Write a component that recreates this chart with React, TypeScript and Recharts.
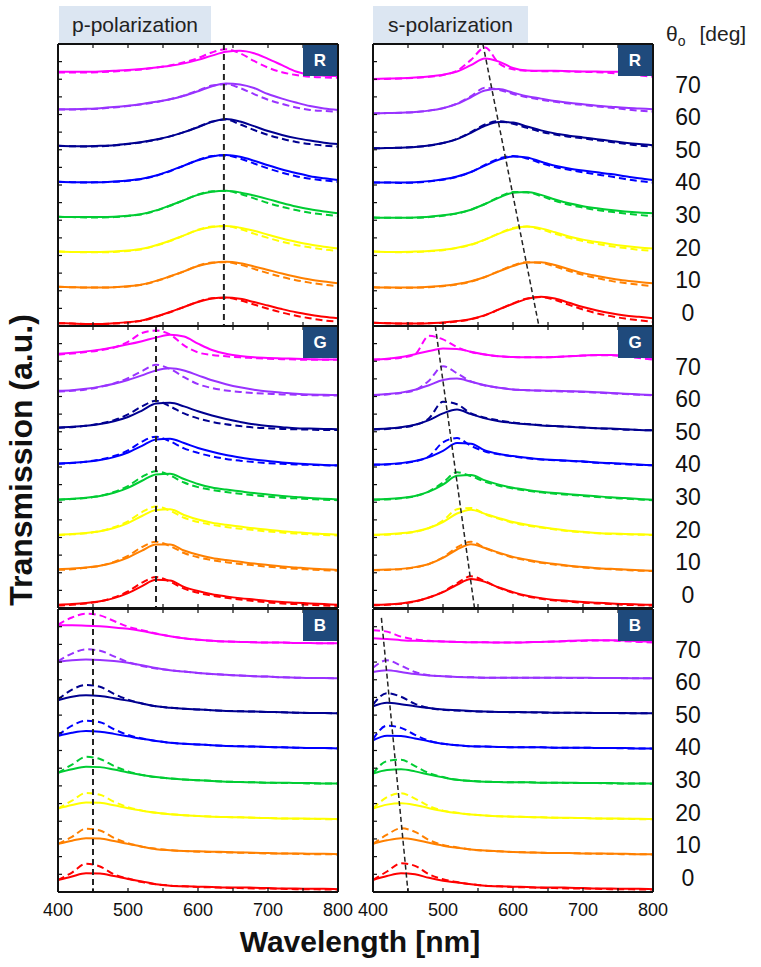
import React from "react";
import { LineChart, Line, XAxis, YAxis, ReferenceLine } from "recharts";

// sampling grid shared by all curves (nm)
const wavelengths = [400, 420, 440, 460, 480, 500, 520, 540, 560, 580, 600, 620, 640, 660, 680, 700, 720, 740, 760, 780, 800];
const angles = [0, 10, 20, 30, 40, 50, 60, 70];
const angleColors = ["#ff0000", "#ff8000", "#ffff00", "#00cc33", "#0000ff", "#000090", "#9933ff", "#ff00ff"];
const xTicks = [400, 450, 500, 550, 600, 650, 700, 750, 800];
const yTicks = [0, 0.5, 1, 1.5, 2, 2.5, 3, 3.5, 4, 4.5, 5, 5.5, 6, 6.5, 7, 7.5, 8];

// each curve: transmission above its own offset step (one step per angle), solid = measured, dashed = simulated
const pR_solid = [
  [.08, .07, .06, .06, .08, .11, .16, .27, .40, .54, .68, .78, .81, .77, .68, .58, .48, .39, .32, .26, .22],
  [.11, .10, .09, .09, .10, .13, .18, .28, .41, .55, .70, .79, .82, .78, .69, .59, .49, .40, .32, .26, .21],
  [.11, .10, .10, .10, .11, .14, .19, .29, .42, .57, .72, .81, .84, .79, .70, .59, .48, .39, .31, .25, .20],
  [.10, .09, .09, .09, .10, .13, .18, .28, .42, .57, .72, .81, .84, .79, .70, .60, .49, .39, .31, .25, .20],
  [.09, .08, .08, .08, .10, .13, .18, .27, .40, .55, .70, .81, .85, .80, .69, .56, .44, .34, .25, .19, .14],
  [.11, .10, .10, .11, .13, .17, .22, .29, .38, .50, .64, .79, .87, .80, .67, .53, .42, .33, .26, .20, .16],
  [.15, .15, .16, .18, .21, .25, .30, .36, .43, .53, .66, .80, .88, .85, .75, .58, .45, .34, .24, .17, .13],
  [.21, .21, .21, .22, .24, .26, .29, .33, .38, .45, .55, .67, .78, .81, .74, .58, .40, .22, .13, .10, .09],
];
const pR_dashed = [
  [.08, .07, .06, .06, .07, .10, .15, .26, .39, .54, .69, .79, .80, .73, .61, .49, .38, .29, .22, .16, .12],
  [.11, .10, .09, .09, .10, .12, .17, .27, .40, .55, .71, .80, .81, .74, .62, .50, .39, .30, .23, .17, .13],
  [.11, .10, .09, .09, .10, .13, .18, .28, .41, .57, .73, .82, .83, .75, .62, .50, .39, .30, .23, .17, .13],
  [.10, .09, .08, .08, .09, .12, .17, .27, .41, .57, .73, .82, .83, .75, .62, .49, .38, .29, .21, .16, .12],
  [.09, .08, .07, .08, .09, .12, .17, .26, .39, .55, .71, .82, .84, .75, .61, .47, .35, .25, .18, .13, .09],
  [.11, .10, .09, .10, .12, .16, .21, .28, .38, .50, .65, .80, .86, .72, .56, .42, .31, .22, .16, .12, .09],
  [.14, .14, .15, .17, .20, .24, .29, .35, .43, .54, .68, .82, .86, .75, .58, .42, .30, .20, .13, .10, .08],
  [.19, .19, .19, .20, .22, .25, .28, .33, .39, .48, .60, .76, .85, .74, .52, .33, .20, .12, .07, .05, .04],
];

const sR_solid = [
  [.09, .08, .07, .07, .08, .10, .14, .20, .31, .47, .63, .77, .83, .78, .66, .54, .44, .36, .30, .26, .22],
  [.10, .09, .09, .09, .11, .14, .19, .27, .39, .55, .70, .80, .81, .73, .61, .50, .42, .35, .29, .25, .21],
  [.11, .10, .10, .11, .13, .16, .22, .31, .45, .62, .76, .82, .77, .66, .54, .45, .38, .32, .27, .23, .20],
  [.08, .07, .07, .08, .10, .14, .20, .30, .46, .64, .78, .80, .72, .59, .48, .40, .34, .29, .25, .22, .20],
  [.07, .07, .07, .08, .11, .16, .24, .37, .55, .72, .81, .78, .66, .55, .47, .41, .36, .31, .25, .19, .14],
  [.04, .05, .06, .08, .12, .19, .30, .48, .68, .79, .77, .66, .55, .46, .40, .35, .30, .25, .20, .16, .13],
  [.03, .04, .05, .07, .11, .18, .30, .49, .68, .72, .62, .52, .45, .38, .33, .29, .25, .22, .19, .17, .15],
  [.01, .02, .03, .05, .08, .13, .22, .40, .59, .50, .32, .25, .24, .24, .23, .22, .22, .21, .21, .20, .20],
];
const sR_dashed = [
  [.09, .08, .07, .07, .08, .09, .13, .19, .30, .47, .64, .78, .82, .74, .60, .47, .36, .28, .21, .16, .12],
  [.10, .09, .08, .09, .10, .13, .18, .26, .39, .56, .72, .81, .79, .69, .56, .45, .36, .28, .22, .17, .13],
  [.11, .10, .09, .10, .12, .15, .21, .30, .45, .63, .78, .82, .74, .62, .50, .41, .33, .26, .21, .16, .13],
  [.08, .07, .07, .07, .09, .13, .19, .30, .46, .66, .80, .79, .69, .55, .44, .36, .29, .24, .19, .15, .12],
  [.07, .07, .06, .07, .10, .15, .23, .37, .57, .75, .82, .75, .62, .51, .43, .36, .30, .24, .17, .11, .07],
  [.04, .05, .06, .08, .12, .19, .31, .50, .72, .81, .74, .62, .51, .43, .37, .32, .27, .22, .17, .12, .09],
  [.03, .04, .05, .07, .11, .18, .31, .52, .76, .70, .58, .49, .42, .36, .31, .27, .23, .19, .15, .11, .08],
  [.00, .01, .02, .04, .07, .12, .24, .55, .90, .45, .28, .24, .23, .23, .22, .21, .20, .18, .15, .11, .07],
];

const pG_solid = [
  [.09, .11, .14, .19, .28, .42, .62, .80, .78, .60, .48, .39, .33, .28, .24, .20, .17, .15, .13, .11, .09],
  [.10, .12, .15, .20, .29, .43, .63, .80, .80, .63, .51, .42, .36, .31, .26, .22, .18, .15, .12, .10, .08],
  [.08, .10, .13, .18, .27, .41, .61, .78, .80, .64, .51, .42, .36, .31, .26, .22, .18, .15, .12, .10, .08],
  [.08, .10, .13, .18, .27, .41, .61, .79, .81, .66, .52, .42, .36, .31, .26, .22, .18, .15, .12, .10, .08],
  [.10, .12, .15, .20, .28, .41, .60, .78, .80, .68, .54, .43, .34, .27, .21, .17, .13, .10, .08, .06, .05],
  [.12, .14, .17, .22, .30, .42, .60, .80, .82, .72, .58, .46, .36, .28, .21, .16, .13, .10, .09, .08, .07],
  [.16, .18, .22, .28, .36, .47, .60, .74, .80, .74, .60, .46, .35, .26, .19, .14, .11, .08, .06, .05, .04],
  [.21, .24, .28, .33, .40, .48, .57, .67, .75, .70, .50, .32, .21, .15, .11, .09, .08, .07, .06, .05, .05],
];
const pG_dashed = [
  [.07, .09, .13, .19, .30, .47, .72, .88, .75, .55, .43, .35, .29, .24, .20, .16, .13, .11, .09, .07, .06],
  [.08, .10, .14, .20, .31, .48, .73, .88, .76, .56, .44, .36, .30, .25, .21, .17, .14, .11, .09, .07, .06],
  [.07, .09, .12, .18, .29, .46, .72, .88, .76, .56, .44, .36, .30, .25, .21, .17, .14, .11, .09, .07, .06],
  [.07, .09, .12, .18, .29, .46, .72, .88, .76, .56, .43, .35, .29, .24, .20, .16, .13, .11, .09, .07, .06],
  [.09, .11, .15, .21, .31, .47, .72, .86, .73, .53, .40, .30, .23, .18, .14, .11, .09, .07, .06, .05, .04],
  [.11, .13, .17, .23, .33, .49, .72, .88, .72, .52, .38, .28, .21, .16, .12, .10, .08, .07, .06, .05, .05],
  [.14, .16, .20, .27, .37, .52, .72, .90, .78, .55, .35, .24, .17, .13, .10, .08, .06, .05, .04, .03, .03],
  [.19, .22, .26, .31, .39, .55, .80, .87, .76, .45, .25, .18, .14, .11, .09, .07, .06, .05, .04, .04, .04],
];

const sG_solid = [
  [.09, .10, .13, .19, .30, .45, .66, .82, .74, .58, .45, .35, .28, .23, .20, .17, .15, .13, .11, .10, .09],
  [.08, .09, .11, .16, .25, .42, .66, .81, .70, .57, .45, .37, .30, .25, .20, .16, .13, .11, .09, .07, .06],
  [.08, .09, .12, .17, .27, .44, .68, .79, .67, .55, .44, .36, .30, .24, .19, .16, .13, .11, .10, .09, .08],
  [.08, .09, .12, .18, .30, .50, .75, .77, .62, .50, .41, .35, .30, .26, .23, .20, .17, .14, .12, .09, .07],
  [.07, .08, .11, .17, .28, .46, .68, .66, .47, .37, .31, .26, .22, .20, .18, .16, .13, .11, .09, .07, .05],
  [.07, .09, .13, .20, .33, .52, .63, .50, .38, .30, .25, .21, .18, .16, .14, .12, .10, .09, .07, .05, .04],
  [.04, .07, .11, .19, .32, .47, .51, .42, .32, .25, .20, .18, .17, .16, .15, .14, .12, .10, .08, .06, .04],
  [.05, .07, .12, .20, .29, .36, .35, .27, .19, .14, .12, .11, .11, .12, .14, .16, .18, .18, .16, .13, .09],
];
const sG_dashed = [
  [.08, .09, .12, .18, .30, .46, .70, .90, .76, .57, .43, .33, .26, .21, .18, .15, .13, .11, .09, .08, .07],
  [.07, .08, .10, .15, .25, .44, .72, .88, .70, .55, .43, .35, .28, .23, .19, .15, .12, .10, .08, .06, .05],
  [.07, .08, .11, .16, .27, .48, .80, .84, .66, .53, .42, .34, .28, .23, .18, .15, .12, .10, .09, .08, .07],
  [.07, .08, .11, .17, .31, .56, .85, .74, .58, .47, .39, .33, .28, .24, .21, .18, .15, .12, .10, .08, .06],
  [.06, .07, .10, .16, .30, .70, .82, .60, .44, .36, .30, .25, .21, .19, .17, .15, .12, .10, .08, .06, .05],
  [.06, .08, .12, .19, .38, .85, .78, .52, .40, .32, .26, .22, .19, .16, .14, .12, .10, .08, .06, .05, .04],
  [.03, .06, .10, .18, .45, .86, .66, .43, .31, .25, .20, .18, .16, .15, .14, .13, .11, .09, .07, .05, .03],
  [.04, .06, .10, .20, .72, .62, .40, .26, .19, .14, .12, .11, .11, .12, .14, .16, .17, .17, .14, .09, .05],
];

const pB_solid = [
  [.34, .44, .53, .52, .45, .37, .30, .22, .18, .16, .15, .14, .13, .13, .12, .11, .10, .10, .09, .09, .08],
  [.36, .45, .52, .51, .44, .36, .28, .21, .18, .16, .15, .14, .13, .12, .11, .10, .09, .09, .08, .08, .07],
  [.36, .46, .53, .52, .45, .37, .30, .24, .20, .17, .15, .13, .12, .11, .10, .09, .08, .08, .07, .07, .06],
  [.37, .47, .54, .53, .46, .38, .31, .25, .21, .18, .16, .14, .12, .11, .10, .09, .09, .08, .08, .07, .07],
  [.41, .50, .55, .53, .47, .40, .33, .27, .22, .19, .17, .15, .13, .12, .11, .10, .09, .08, .07, .07, .06],
  [.42, .52, .56, .54, .48, .41, .33, .25, .21, .18, .16, .14, .12, .11, .10, .09, .08, .07, .06, .06, .05],
  [.51, .55, .57, .56, .53, .48, .41, .33, .27, .23, .19, .16, .14, .12, .10, .09, .07, .06, .05, .05, .04],
  [.54, .54, .53, .51, .48, .44, .38, .30, .23, .17, .13, .10, .08, .07, .06, .05, .05, .04, .04, .03, .03],
];
const pB_dashed = [
  [.34, .55, .80, .72, .50, .38, .28, .22, .18, .16, .14, .13, .12, .11, .10, .10, .09, .08, .08, .07, .07],
  [.36, .56, .79, .74, .53, .38, .28, .22, .18, .16, .14, .13, .12, .11, .10, .09, .09, .08, .07, .07, .06],
  [.36, .58, .80, .75, .55, .40, .30, .24, .20, .17, .15, .13, .12, .11, .10, .09, .08, .07, .07, .06, .06],
  [.37, .60, .82, .76, .56, .41, .31, .25, .21, .18, .16, .14, .12, .11, .10, .09, .08, .08, .07, .07, .07],
  [.43, .70, .84, .80, .60, .44, .34, .27, .22, .19, .17, .15, .13, .12, .11, .10, .09, .08, .07, .07, .06],
  [.44, .72, .85, .80, .60, .44, .33, .25, .21, .18, .16, .14, .12, .11, .10, .09, .08, .07, .06, .06, .05],
  [.52, .74, .86, .82, .66, .50, .39, .32, .27, .23, .19, .16, .14, .12, .10, .09, .07, .06, .05, .05, .04],
  [.56, .76, .87, .82, .66, .50, .40, .31, .23, .17, .13, .10, .08, .07, .06, .05, .05, .04, .04, .03, .03],
];

const sB_solid = [
  [.34, .45, .53, .50, .40, .32, .27, .22, .18, .16, .15, .14, .13, .13, .12, .11, .10, .10, .09, .09, .08],
  [.36, .46, .52, .48, .39, .31, .25, .20, .17, .15, .13, .12, .11, .10, .10, .09, .09, .08, .08, .07, .07],
  [.36, .47, .51, .46, .37, .29, .23, .19, .16, .14, .13, .12, .11, .10, .10, .09, .08, .08, .07, .07, .06],
  [.35, .45, .47, .41, .32, .24, .17, .14, .12, .11, .10, .10, .09, .09, .09, .08, .08, .08, .07, .07, .07],
  [.29, .42, .41, .34, .26, .19, .15, .12, .11, .10, .09, .09, .09, .08, .08, .08, .07, .07, .07, .06, .06],
  [.25, .35, .31, .25, .20, .16, .14, .12, .10, .09, .09, .08, .08, .07, .07, .07, .06, .06, .06, .05, .05],
  [.22, .27, .22, .16, .12, .10, .08, .07, .06, .06, .06, .06, .06, .06, .06, .06, .05, .05, .05, .04, .04],
  [.17, .15, .12, .10, .09, .08, .07, .06, .06, .05, .05, .06, .07, .08, .10, .11, .12, .12, .11, .09, .07],
];
const sB_dashed = [
  [.34, .58, .81, .74, .50, .36, .28, .22, .18, .16, .14, .13, .12, .11, .10, .10, .09, .08, .08, .07, .07],
  [.36, .62, .80, .70, .47, .33, .26, .20, .17, .15, .13, .12, .11, .10, .10, .09, .08, .08, .07, .07, .06],
  [.36, .68, .79, .64, .43, .30, .24, .19, .16, .14, .13, .12, .11, .10, .09, .09, .08, .07, .07, .06, .06],
  [.35, .70, .74, .56, .36, .25, .17, .14, .12, .11, .10, .10, .09, .09, .08, .08, .08, .07, .07, .07, .06],
  [.32, .70, .64, .44, .28, .19, .15, .12, .11, .10, .09, .09, .09, .08, .08, .08, .07, .07, .06, .06, .05],
  [.30, .62, .52, .32, .20, .15, .13, .11, .10, .09, .08, .08, .07, .07, .07, .06, .06, .06, .05, .05, .05],
  [.34, .55, .40, .22, .13, .10, .08, .07, .06, .06, .06, .06, .06, .06, .05, .05, .05, .05, .04, .04, .04],
  [.40, .36, .22, .14, .10, .08, .07, .06, .06, .05, .05, .06, .07, .08, .09, .10, .11, .11, .09, .07, .05],
];

// black dashed guide through the resonance peaks
const pR_trend = [{ wl: 637, level: 8 }, { wl: 637, level: 0 }];
const sR_trend = [{ wl: 557, level: 8 }, { wl: 637, level: 0 }];
const pG_trend = [{ wl: 540, level: 8 }, { wl: 540, level: 0 }];
const sG_trend = [{ wl: 489, level: 8 }, { wl: 545, level: 0 }];
const pB_trend = [{ wl: 450, level: 8 }, { wl: 450, level: 0 }];
const sB_trend = [{ wl: 412, level: 7.75 }, { wl: 450, level: 0 }];

const FONT = "'Liberation Sans', Arial, sans-serif";
const NARROW = "'Liberation Sans Narrow', 'Arial Narrow', 'Liberation Sans', sans-serif";
const AX = 4; // axis band (ticks live inside the plot)
const SIDE = 16; // extra room left/right so tick labels are not clipped
const PANEL_W = 280;
const COL_X = [58, 373];
const ROWS = [
  { top: 44, h: 282 },
  { top: 326, h: 282 },
  { top: 609, h: 283 },
];

function buildRows(solid: number[][], dashed: number[][]) {
  return wavelengths.map((wl, j) => {
    const row: Record<string, number> = { wl };
    angles.forEach((_, i) => {
      row[`s${i}`] = i + solid[i][j];
      row[`d${i}`] = i + dashed[i][j];
    });
    return row;
  });
}

const frame = { stroke: "#111", strokeWidth: 2 };

function Panel({
  x,
  top,
  h,
  solid,
  dashed,
  trend,
  thinTrend,
  letter,
  showLabels,
}: {
  x: number;
  top: number;
  h: number;
  solid: number[][];
  dashed: number[][];
  trend: { wl: number; level: number }[];
  thinTrend: boolean;
  letter: string;
  showLabels: boolean;
}) {
  const data = buildRows(solid, dashed);
  const bottomBand = showLabels ? 34 : AX;
  const offX = SIDE + AX;
  return (
    <div style={{ position: "absolute", left: x - offX, top: top - AX }}>
      <LineChart
        width={PANEL_W + 2 * offX}
        height={h + AX + bottomBand}
        data={data}
        margin={{ top: 0, right: SIDE, bottom: 0, left: SIDE }}
      >
        <XAxis
          dataKey="wl"
          type="number"
          domain={[400, 800]}
          ticks={xTicks}
          interval={0}
          height={bottomBand}
          tickSize={0}
          tickMargin={0}
          tickLine={false}
          axisLine={frame}
          tick={(p: any) => (
            <g>
              <line x1={p.x} x2={p.x} y1={p.y} y2={p.y - 4} stroke="#111" strokeWidth={1.2} />
              {showLabels && p.payload.value % 100 === 0 ? (
                <text x={p.x} y={p.y + 24} textAnchor="middle" fontSize={18} fontFamily={NARROW} fill="#111">
                  {p.payload.value}
                </text>
              ) : null}
            </g>
          )}
        />
        <XAxis
          xAxisId="top"
          orientation="top"
          dataKey="wl"
          type="number"
          domain={[400, 800]}
          ticks={xTicks}
          interval={0}
          height={AX}
          tickSize={0}
          tickMargin={0}
          tickLine={false}
          axisLine={frame}
          tick={(p: any) => <line x1={p.x} x2={p.x} y1={p.y} y2={p.y + 4} stroke="#111" strokeWidth={1.2} />}
        />
        <YAxis
          type="number"
          domain={[0, 8]}
          allowDataOverflow
          ticks={yTicks}
          interval={0}
          width={AX}
          tickSize={0}
          tickMargin={0}
          tickLine={false}
          axisLine={frame}
          tick={(p: any) => <line x1={p.x} x2={p.x + 4} y1={p.y} y2={p.y} stroke="#111" strokeWidth={1.2} />}
        />
        <YAxis
          yAxisId="r"
          orientation="right"
          type="number"
          domain={[0, 8]}
          ticks={yTicks}
          interval={0}
          width={AX}
          tickSize={0}
          tickMargin={0}
          tickLine={false}
          axisLine={frame}
          tick={(p: any) => <line x1={p.x} x2={p.x - 4} y1={p.y} y2={p.y} stroke="#111" strokeWidth={1.2} />}
        />
        {angles.map((a, i) => [
          <Line
            key={`s${a}`}
            type="monotone"
            dataKey={`s${i}`}
            stroke={angleColors[i]}
            strokeWidth={2}
            dot={false}
            activeDot={false}
            isAnimationActive={false}
          />,
          <Line
            key={`d${a}`}
            type="monotone"
            dataKey={`d${i}`}
            stroke={angleColors[i]}
            strokeWidth={2}
            strokeDasharray="7 4"
            dot={false}
            activeDot={false}
            isAnimationActive={false}
          />,
        ])}
        <ReferenceLine
          segment={[
            { x: trend[0].wl, y: trend[0].level },
            { x: trend[1].wl, y: trend[1].level },
          ]}
          stroke="#222"
          strokeWidth={thinTrend ? 1.5 : 2}
          strokeDasharray={thinTrend ? "5 3" : "6 4"}
          ifOverflow="visible"
        />
      </LineChart>
      <div
        style={{
          position: "absolute",
          left: offX + PANEL_W - 35,
          top: AX + 1,
          width: 34,
          height: 31,
          background: "#1f4a7c",
          color: "#fff",
          fontFamily: FONT,
          fontWeight: "bold",
          fontSize: 17,
          display: "flex",
          alignItems: "center",
          justifyContent: "center",
        }}
      >
        {letter}
      </div>
    </div>
  );
}

const panels = [
  { col: 0, row: 0, solid: pR_solid, dashed: pR_dashed, trend: pR_trend, letter: "R" },
  { col: 1, row: 0, solid: sR_solid, dashed: sR_dashed, trend: sR_trend, letter: "R" },
  { col: 0, row: 1, solid: pG_solid, dashed: pG_dashed, trend: pG_trend, letter: "G" },
  { col: 1, row: 1, solid: sG_solid, dashed: sG_dashed, trend: sG_trend, letter: "G" },
  { col: 0, row: 2, solid: pB_solid, dashed: pB_dashed, trend: pB_trend, letter: "B" },
  { col: 1, row: 2, solid: sB_solid, dashed: sB_dashed, trend: sB_trend, letter: "B" },
];

const titleBox = (left: number, width: number, text: string) => (
  <div
    style={{
      position: "absolute",
      left,
      top: 6,
      width,
      height: 37,
      background: "#dce6f2",
      display: "flex",
      alignItems: "center",
      justifyContent: "center",
      fontFamily: FONT,
      fontSize: 21,
      color: "#222",
    }}
  >
    {text}
  </div>
);

export default function App() {
  return (
    <div style={{ position: "absolute", left: 0, top: 0, width: 761, height: 967, background: "#fff", fontFamily: FONT }}>
      {titleBox(59, 152, "p-polarization")}
      {titleBox(373, 155, "s-polarization")}
      <div style={{ position: "absolute", left: 666, top: 22, fontSize: 21, color: "#222", whiteSpace: "nowrap", lineHeight: "24px" }}>
        θ<span style={{ fontSize: 14, position: "relative", top: 5 }}>o</span>
        <span style={{ marginLeft: 14 }}>[deg]</span>
      </div>
      {panels.map((p, k) => (
        <Panel
          key={k}
          x={COL_X[p.col]}
          top={ROWS[p.row].top}
          h={ROWS[p.row].h}
          solid={p.solid}
          dashed={p.dashed}
          trend={p.trend}
          thinTrend={p.col === 1}
          letter={p.letter}
          showLabels={p.row === 2}
        />
      ))}
      {ROWS.map((r, ri) =>
        angles.map((a, i) => (
          <div
            key={`${ri}-${a}`}
            style={{
              position: "absolute",
              left: 658,
              width: 60,
              top: r.top + 40.5 + (7 - i) * 32.6 - 13,
              height: 26,
              lineHeight: "26px",
              textAlign: "center",
              fontSize: 23,
              color: "#111",
            }}
          >
            {a}
          </div>
        ))
      )}
      <div
        style={{
          position: "absolute",
          left: 21,
          top: 460,
          transform: "translate(-50%, -50%) rotate(-90deg)",
          fontSize: 32,
          fontWeight: "bold",
          color: "#111",
          whiteSpace: "nowrap",
          lineHeight: "34px",
        }}
      >
        Transmission (a.u.)
      </div>
      <div
        style={{
          position: "absolute",
          left: 160,
          width: 400,
          top: 927,
          textAlign: "center",
          fontSize: 30,
          fontWeight: "bold",
          color: "#111",
          lineHeight: "30px",
        }}
      >
        Wavelength [nm]
      </div>
    </div>
  );
}
